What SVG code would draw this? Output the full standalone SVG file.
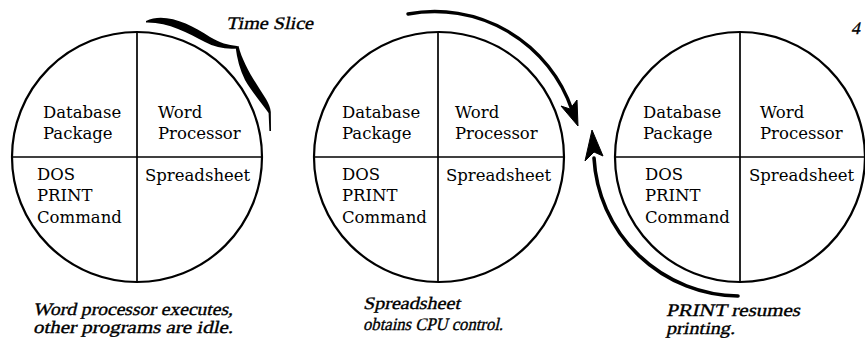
<svg xmlns="http://www.w3.org/2000/svg" width="865" height="342" viewBox="0 0 865 342">
<style>
.ring{fill:none;stroke:#000;stroke-width:2.2}
.div{fill:none;stroke:#000;stroke-width:1.7}
.lbl{font-family:"DejaVu Serif","Liberation Serif",serif;font-size:16.5px;fill:#000}
.cap{font-family:"Liberation Serif","DejaVu Serif",serif;font-size:17.5px;fill:#000;stroke:#000;stroke-width:0.35}
.arc{fill:none;stroke:#000;stroke-width:3.6;stroke-linecap:round}
.head{fill:#000;stroke:#000;stroke-width:1}
</style>
<rect width="865" height="342" fill="#fff"/>

<g id="circle1">
  <circle class="ring" cx="137" cy="157" r="125"/>
  <line class="div" x1="12" y1="157" x2="262" y2="157"/>
  <line class="div" x1="137" y1="32" x2="137" y2="282"/>
  <text class="lbl" x="43" y="118">Database</text>
  <text class="lbl" x="43" y="139">Package</text>
  <text class="lbl" x="158" y="118">Word</text>
  <text class="lbl" x="158" y="139">Processor</text>
  <text class="lbl" x="37" y="180">DOS</text>
  <text class="lbl" x="37" y="201">PRINT</text>
  <text class="lbl" x="37" y="223">Command</text>
  <text class="lbl" x="145" y="181">Spreadsheet</text>
</g>

<g id="circle2">
  <circle class="ring" cx="439" cy="157" r="125"/>
  <line class="div" x1="314" y1="157" x2="564" y2="157"/>
  <line class="div" x1="438" y1="32" x2="438" y2="282"/>
  <text class="lbl" x="342" y="118">Database</text>
  <text class="lbl" x="342" y="139">Package</text>
  <text class="lbl" x="455" y="118">Word</text>
  <text class="lbl" x="455" y="139">Processor</text>
  <text class="lbl" x="342" y="180">DOS</text>
  <text class="lbl" x="342" y="201">PRINT</text>
  <text class="lbl" x="342" y="223">Command</text>
  <text class="lbl" x="446" y="181">Spreadsheet</text>
</g>

<g id="circle3">
  <circle class="ring" cx="740" cy="157" r="125"/>
  <line class="div" x1="615" y1="157" x2="865" y2="157"/>
  <line class="div" x1="740" y1="32" x2="740" y2="282"/>
  <text class="lbl" x="643" y="118">Database</text>
  <text class="lbl" x="643" y="139">Package</text>
  <text class="lbl" x="760" y="118">Word</text>
  <text class="lbl" x="760" y="139">Processor</text>
  <text class="lbl" x="645" y="180">DOS</text>
  <text class="lbl" x="645" y="201">PRINT</text>
  <text class="lbl" x="645" y="223">Command</text>
  <text class="lbl" x="749" y="181">Spreadsheet</text>
</g>

<g id="connectors">
  <!-- Time slice bracket -->
  <path d="M146,21 C165,12 190,24 210,37 C220,43 228,45 237,46 L237,48.5 C226,49.5 215,47.5 205,42 C188,33 168,22 146,22.5 Z" fill="#000"/>
  <path d="M235.5,46.5 L238.5,46 C243,64 255,82 266,99 C268.5,103 270.5,108 270.8,112 L271,131 L269.4,131 L268.6,113 C262,104 252,92 245,80 C240,70 237,59 235.5,46.5 Z" fill="#000"/>
  <!-- arrow around circle 2 -->
  <path class="arc" d="M408,14 A145,145 0 0 1 572,110" style="stroke-width:3.4"/>
  <polygon class="head" points="561,106 578,126 577,100 570,109"/>
  <!-- arrow around circle 3 -->
  <path class="arc" d="M738,296 A146,146 0 0 1 594,158"/>
  <polygon class="head" points="585,161 592,130 603,156 594,152"/>
</g>

<g id="captions">
  <text class="cap" transform="translate(226,29) skewX(-13)" font-size="18.5" textLength="87" lengthAdjust="spacingAndGlyphs">Time Slice</text>
  <text class="cap" transform="translate(33,315) skewX(-13)" textLength="200" lengthAdjust="spacingAndGlyphs">Word processor executes,</text>
  <text class="cap" transform="translate(33,333) skewX(-13)" textLength="200" lengthAdjust="spacingAndGlyphs">other programs are idle.</text>
  <text class="cap" transform="translate(363,309) skewX(-13)" textLength="97" lengthAdjust="spacingAndGlyphs">Spreadsheet</text>
  <text class="cap" transform="translate(363,330) skewX(-13)" font-size="18" textLength="140" lengthAdjust="spacingAndGlyphs">obtains CPU control.</text>
  <text class="cap" transform="translate(666,316) skewX(-13)" font-size="17" textLength="134" lengthAdjust="spacingAndGlyphs">PRINT resumes</text>
  <text class="cap" transform="translate(666,334) skewX(-13)" font-size="17" textLength="69" lengthAdjust="spacingAndGlyphs">printing.</text>
  <text class="cap" transform="translate(851,34) skewX(-13)" font-size="15">4</text>
</g>
</svg>
